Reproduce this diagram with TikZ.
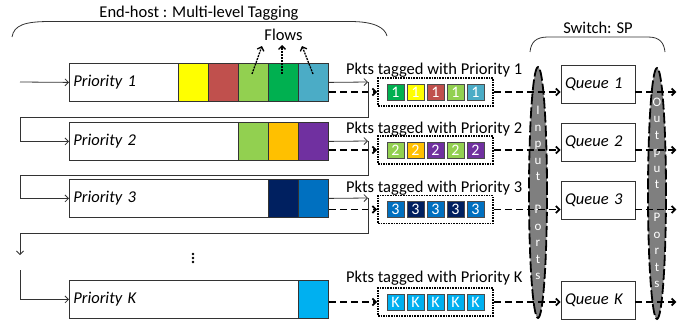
\documentclass[tikz,border=0pt]{standalone}
\usepackage{fontspec}
\setmainfont{Carlito}
\usetikzlibrary{arrows.meta,shapes.geometric,calc}
\definecolor{cyel}{HTML}{FFFF00}
\definecolor{cred}{HTML}{C0504D}
\definecolor{clgr}{HTML}{92D050}
\definecolor{cgrn}{HTML}{00B050}
\definecolor{cteal}{HTML}{4BACC6}
\definecolor{corg}{HTML}{FFC000}
\definecolor{cpur}{HTML}{7030A0}
\definecolor{cnavy}{HTML}{002060}
\definecolor{cblue}{HTML}{0070C0}
\definecolor{ccyan}{HTML}{00B0F0}
\definecolor{cport}{HTML}{7F7F7F}
\begin{document}
\begin{tikzpicture}[x=1pt,y=-1pt,
  font=\fontsize{16.5}{18}\selectfont,
  >={Straight Barb[length=3.5pt,width=7pt]},
  pbox/.style={draw=black!80, line width=0.8pt, minimum height=38pt, text width=251pt,
    inner xsep=4pt, inner ysep=0pt, align=left, font=\fontsize{16.5}{18}\selectfont\itshape, anchor=north west},
  cell/.style={draw=black!80, line width=0.8pt, minimum width=30pt, minimum height=38pt,
    anchor=north west, inner sep=0pt},
  pkbox/.style={draw, densely dotted, line width=1.6pt, minimum width=115pt, minimum height=28pt, inner sep=0pt},
  pk/.style={draw=black!70, line width=0.5pt, minimum width=17pt, minimum height=16pt, inner sep=0pt,
    text=white, font=\fontsize{16}{16}\selectfont},
  qbox/.style={draw=black!80, line width=0.8pt, minimum height=38pt, text width=66pt,
    inner xsep=4pt, inner ysep=0pt, align=left, font=\fontsize{16.5}{18}\selectfont\itshape},
  sline/.style={line width=0.8pt, draw=black!80},
  dline/.style={line width=1.8pt, dash pattern=on 7pt off 4pt},
  flowarr/.style={line width=1.3pt, dash pattern=on 2pt off 1pt},
  port/.style={ellipse, fill=cport, draw=black, line width=1.8pt, dash pattern=on 11pt off 3pt,
    minimum width=18pt, minimum height=251pt, inner sep=0pt},
  plbl/.style={text=white, align=center, font=\fontsize{13}{16.5}\selectfont, inner sep=0pt},
  lbl/.style={inner sep=0pt}
]
\useasboundingbox (0,0) rectangle (686,324);

% braces and titles
\draw[sline] (12,37) .. controls (14,25) and (25,21.5) .. (50,21.5) -- (350,21.5)
  .. controls (375,21.5) and (385,28) .. (387,36);
\node[lbl] (title) at (199,13) {End-host : Multi-level Tagging};
\draw[sline] (530,52) .. controls (531,42) and (536,37) .. (548,37) -- (648,37)
  .. controls (660,37) and (664,43) .. (665,52);
\node[lbl] (sw) at (598,28) {Switch: SP};

% priority boxes
\node[pbox] (p1) at (69,63) {Priority 1};
\node[pbox] (p2) at (69,122) {Priority 2};
\node[pbox] (p3) at (69,179) {Priority 3};
\node[pbox] (pK) at (69,280) {Priority K};

% flow cells
\node[cell, fill=cyel] (c11) at (178,63) {};
\node[cell, fill=cred] (c12) at (208,63) {};
\node[cell, fill=clgr] (c13) at (238,63) {};
\node[cell, fill=cgrn] (c14) at (268,63) {};
\node[cell, fill=cteal] (c15) at (298,63) {};
\node[cell, fill=clgr] (c23) at (238,122) {};
\node[cell, fill=corg] (c24) at (268,122) {};
\node[cell, fill=cpur] (c25) at (298,122) {};
\node[cell, fill=cnavy] (c34) at (268,179) {};
\node[cell, fill=cblue] (c35) at (298,179) {};
\node[cell, fill=ccyan] (cK5) at (298,280) {};

% Flows label and arrows
\node[lbl] (flows) at (283.5,35) {Flows};
\coordinate (f1a) at (252,74); \coordinate (f1b) at (262,46);
\coordinate (f2a) at (282,74); \coordinate (f2b) at (282,45);
\coordinate (f3a) at (313,74); \coordinate (f3b) at (302,46);
\draw[flowarr,->] (f1a) -- (f1b);
\draw[flowarr,->] (f2a) -- (f2b);
\draw[flowarr,->] (f3a) -- (f3b);

% ports
\node[port] (inp) at (538,192.5) {};
\node[port] (outp) at (657,193.5) {};
\node[plbl] (inlbl) at (538,193) {I\\n\\p\\u\\t\\\mbox{}\\P\\o\\r\\t\\s};
\node[plbl] (outlbl) at (657,193) {O\\u\\t\\p\\u\\t\\\mbox{}\\P\\o\\r\\t\\s};

% packet boxes
\node[pkbox] (k1) at (435.5,92) {};
\node[pkbox] (k2) at (435.5,150) {};
\node[pkbox] (k3) at (435.5,209.5) {};
\node[pkbox] (kK) at (435.5,302) {};
\foreach \c [count=\i] in {cgrn,cyel,cred,clgr,cteal}
  \node[pk, fill=\c] (k1c\i) at ($(k1.center)+(-60+20*\i,0)$) {1};
\foreach \c [count=\i] in {clgr,corg,cpur,clgr,cpur}
  \node[pk, fill=\c] (k2c\i) at ($(k2.center)+(-60+20*\i,0)$) {2};
\foreach \c [count=\i] in {cblue,cnavy,cblue,cnavy,cblue}
  \node[pk, fill=\c] (k3c\i) at ($(k3.center)+(-60+20*\i,0)$) {3};
\foreach \c [count=\i] in {ccyan,ccyan,ccyan,ccyan,ccyan}
  \node[pk, fill=\c] (kKc\i) at ($(kK.center)+(-60+20*\i,0)$) {K};

% packet labels
\node[lbl, anchor=base west] (t1) at (346,74) {Pkts tagged with Priority 1};
\node[lbl, anchor=base west] (t2) at (346,133) {Pkts tagged with Priority 2};
\node[lbl, anchor=base west] (t3) at (346,192) {Pkts tagged with Priority 3};
\node[lbl, anchor=base west] (tK) at (346,282) {Pkts tagged with Priority K};

% queues
\node[qbox] (q1) at (598,84) {Queue 1};
\node[qbox] (q2) at (598,142) {Queue 2};
\node[qbox] (q3) at (598,200) {Queue 3};
\node[qbox] (qK) at (598,300) {Queue K};

% dashed flow of packets
\foreach \r in {1,2,3,K} {
  \coordinate (o\r) at ($(q\r.east |- k\r.east)+(41,0)$);
  \draw[dline,->] (p\r.east |- k\r.west) -- (k\r.west);
  \draw[dline,->] (k\r.east) -- (q\r.west |- k\r.east);
  \draw[dline,->] (q\r.east |- k\r.east) -- (o\r);
}

% solid control lines
\coordinate (in) at (20,82);
\coordinate (s1) at (368,82);
\coordinate (s2) at (368,141);
\coordinate (s3) at (368,198);
\coordinate (b1) at (20,117);
\coordinate (b2) at (20,175);
\coordinate (b3) at (368,233);
\coordinate (d3) at (20,255);
\coordinate (d4) at (20,270);
\draw[sline,->] (in) -- (p1.west);
\draw[sline,->] (p1.east) -- (s1);
\draw[sline,->] (p2.east) -- (s2);
\draw[sline,->] (p3.east) -- (s3);
\draw[sline,->] (s1) |- (b1) |- (p2.west);
\draw[sline,->] (s2) |- (b2) |- (p3.west);
\draw[sline,->] (s3) -- (b3) -| (d3);
\draw[sline,->] (d4) |- (pK.west);

% vertical ellipsis
\foreach \yy in {254,258,262}
  \fill (193,\yy) circle (1.3pt);
\end{tikzpicture}
\end{document}
